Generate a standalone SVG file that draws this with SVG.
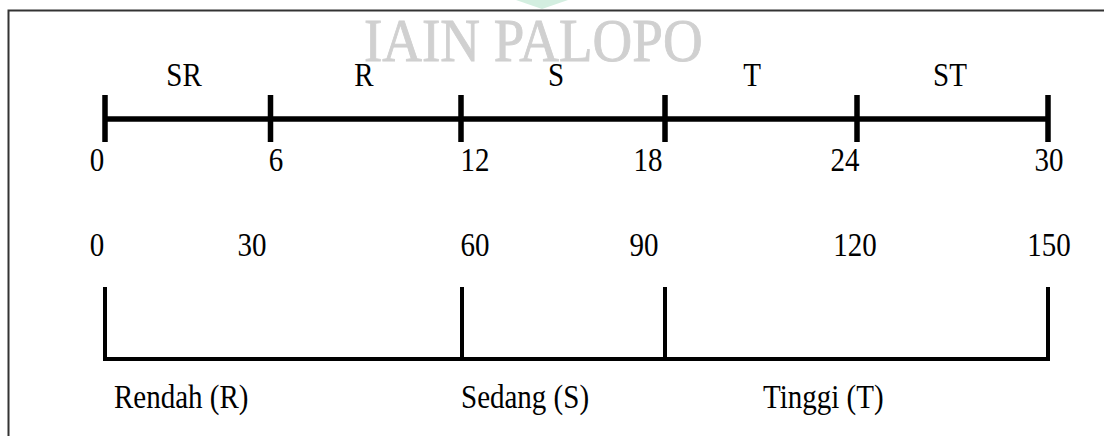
<svg xmlns="http://www.w3.org/2000/svg" width="1104" height="436" viewBox="0 0 1104 436">
  <style>
    text { font-family: "Liberation Serif", "Times New Roman", serif; font-size: 29px; fill: #000; }
    .mid { text-anchor: middle; }
    .axis { stroke: #000; stroke-width: 5.5; fill: none; }
    .bracket { stroke: #000; stroke-width: 4; fill: none; }
    .frame { stroke: #333; stroke-width: 2; fill: none; }
    .wm { font-size: 55px; fill: #d0d0d0; stroke: #d0d0d0; stroke-width: 0.8; }
  </style>
  <rect width="1104" height="436" fill="#fff"/>
  <g id="watermark">
    <polygon points="516,0 568,0 542,9" fill="#d3eee0"/>
    <text class="wm" transform="translate(364,61) scale(1,1.12)">IAIN PALOPO</text>
  </g>
  <g id="frame">
    <path class="frame" d="M8.5,436 V10.5 H1104"/>
  </g>
  <g id="connectors">
    <path class="axis" d="M105,119 H1048"/>
    <path class="axis" d="M105,95 V142 M270.5,95 V142 M461,95 V142 M665,95 V142 M857,95 V142 M1048,95 V142"/>
    <path class="bracket" d="M105,287 V359 H1048 V287 M462,287 V359 M665,287 V359"/>
  </g>
  <g id="scale-labels">
    <text class="mid" transform="translate(184,86) scale(1,1.13)">SR</text>
    <text class="mid" transform="translate(364,86) scale(1,1.13)">R</text>
    <text class="mid" transform="translate(556,86) scale(1,1.13)">S</text>
    <text class="mid" transform="translate(752,86) scale(1,1.13)">T</text>
    <text class="mid" transform="translate(950,86) scale(1,1.13)">ST</text>
  </g>
  <g id="score-labels">
    <text class="mid" transform="translate(97,171) scale(1,1.13)">0</text>
    <text class="mid" transform="translate(276,171) scale(1,1.13)">6</text>
    <text class="mid" transform="translate(475,171) scale(1,1.13)">12</text>
    <text class="mid" transform="translate(648,171) scale(1,1.13)">18</text>
    <text class="mid" transform="translate(845,171) scale(1,1.13)">24</text>
    <text class="mid" transform="translate(1049,171) scale(1,1.13)">30</text>
  </g>
  <g id="value-labels">
    <text class="mid" transform="translate(97,256) scale(1,1.13)">0</text>
    <text class="mid" transform="translate(252,256) scale(1,1.13)">30</text>
    <text class="mid" transform="translate(475,256) scale(1,1.13)">60</text>
    <text class="mid" transform="translate(644,256) scale(1,1.13)">90</text>
    <text class="mid" transform="translate(855,256) scale(1,1.13)">120</text>
    <text class="mid" transform="translate(1049,256) scale(1,1.13)">150</text>
  </g>
  <g id="category-labels">
    <text transform="translate(114,408) scale(1,1.13)">Rendah (R)</text>
    <text transform="translate(461,408) scale(1,1.13)">Sedang (S)</text>
    <text transform="translate(763,408) scale(1,1.13)">Tinggi (T)</text>
  </g>
</svg>
